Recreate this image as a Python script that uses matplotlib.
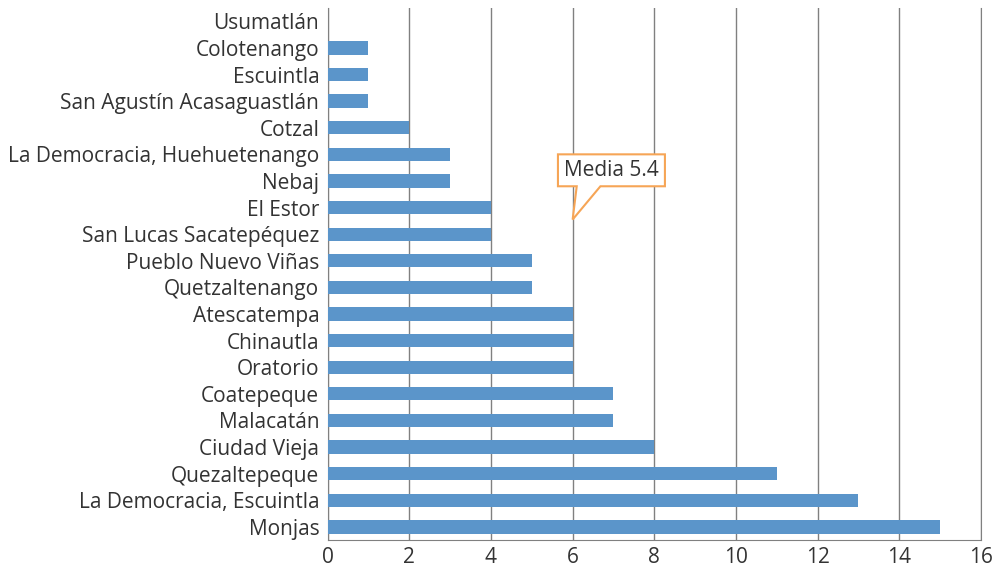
import matplotlib.pyplot as plt
from matplotlib.patches import Polygon

plt.rcParams['font.family'] = ['Open Sans', 'DejaVu Sans']

municipios = ['Monjas', 'La Democracia, Escuintla', 'Quezaltepeque', 'Ciudad Vieja',
              'Malacatán', 'Coatepeque', 'Oratorio', 'Chinautla', 'Atescatempa',
              'Quetzaltenango', 'Pueblo Nuevo Viñas', 'San Lucas Sacatepéquez',
              'El Estor', 'Nebaj', 'La Democracia, Huehuetenango', 'Cotzal',
              'San Agustín Acasaguastlán', 'Escuintla', 'Colotenango', 'Usumatlán']
valores = [15, 13, 11, 8, 7, 7, 6, 6, 6, 5, 5, 4, 4, 3, 3, 2, 1, 1, 1, 0]
media = 5.4
xticks = [0, 2, 4, 6, 8, 10, 12, 14, 16]

fig = plt.figure(figsize=(10.02, 5.71), dpi=100)
ax = fig.add_axes([0.327, 0.054, 0.652, 0.932])

y = list(range(len(municipios)))
ax.barh(y, valores, height=0.5, color='#5b95ca', zorder=3)

ax.set_xlim(0, 16)
ax.set_ylim(-0.5, 19.5)
ax.set_xticks(xticks)
ax.set_yticks(y)
ax.set_yticklabels(municipios)
ax.tick_params(axis='both', length=0, labelsize=15, colors='#333333')
ax.tick_params(axis='x', pad=5)
ax.tick_params(axis='y', pad=6)
ax.grid(axis='x', color='#808080', linewidth=1, zorder=0)
ax.spines['top'].set_visible(False)
for s in ['left', 'bottom', 'right']:
    ax.spines[s].set_color('#808080')

# callout "Media"
callout = [(5.64, 14.0), (8.26, 14.0), (8.26, 12.8), (6.68, 12.8), (6.0, 11.55),
           (6.1, 12.8), (5.64, 12.8)]
ax.add_patch(Polygon(callout, closed=True, facecolor='white', edgecolor='#f6a556',
                     linewidth=1.5, zorder=5))
ax.text(6.95, 13.4, 'Media %s' % media, ha='center', va='center', fontsize=15,
        color='#333333', zorder=6)

plt.savefig('out.png')
